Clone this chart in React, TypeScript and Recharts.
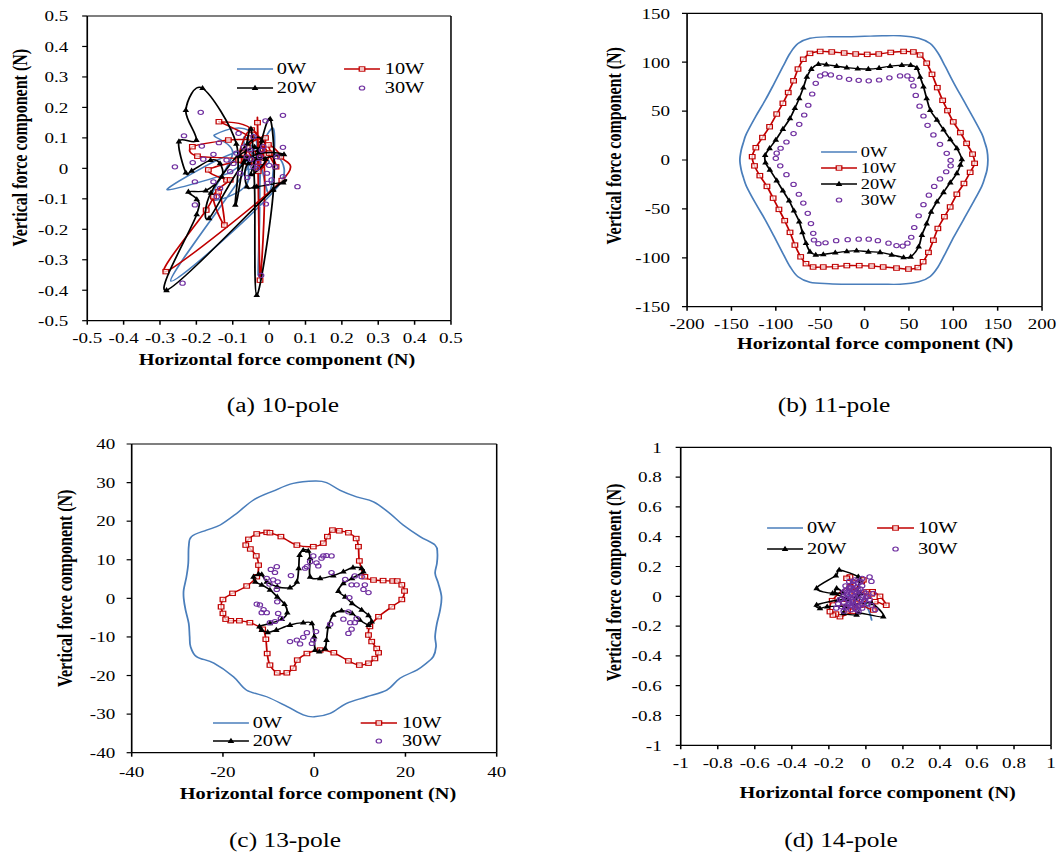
import React from 'react';
import { ScatterChart, Scatter, XAxis, YAxis, Legend, Label, ReferenceLine } from 'recharts';

const S = 1.27;
const BASE_W = 1061 / S;
const FONT = '"Liberation Serif", "Times New Roman", serif';
const C0 = '#4A7EBB';
const C10 = '#C00000';
const C20 = '#000000';
const C30 = '#7030A0';

const seriesNames = ['0W', '10W', '20W', '30W'];
const captions = ['(a) 10-pole', '(b) 11-pole', '(c) 13-pole', '(d) 14-pole'];
const xTitleText = 'Horizontal force component (N)';
const yTitleText = 'Vertical force component (N)';

const ticksA = [-0.5, -0.4, -0.3, -0.2, -0.1, 0, 0.1, 0.2, 0.3, 0.4, 0.5];
const ticksBX = [-200, -150, -100, -50, 0, 50, 100, 150, 200];
const ticksBY = [-150, -100, -50, 0, 50, 100, 150];
const ticksCX = [-40, -20, 0, 20, 40];
const ticksCY = [-40, -30, -20, -10, 0, 10, 20, 30, 40];
const ticksD = [-1, -0.8, -0.6, -0.4, -0.2, 0, 0.2, 0.4, 0.6, 0.8, 1];

// ---------- (a) 10-pole ----------
const aW0 = [[-0.04,0.03],[0.012,0.13],[0.0,-0.08],[-0.06,0.06],[-0.28,-0.068],[-0.12,-0.02],[-0.05,0.02],[-0.27,-0.37],[0.03,-0.05],[-0.02,0.04],[-0.03,-0.35],[-0.035,0.09],[-0.15,0.11],[-0.1,0.05],[-0.16,-0.1],[-0.06,-0.05],[-0.07,0.1],[-0.04,0.06],[0.0,0.02],[-0.06,0.0],[-0.03,0.08],[-0.02,0.0]];
const aW10 = [[-0.03,0.05],[-0.032,0.15],[-0.025,-0.367],[-0.02,0.08],[-0.138,0.153],[-0.05,0.1],[-0.112,0.093],[-0.211,0.071],[-0.197,0.04],[-0.08,0.03],[-0.167,-0.005],[-0.117,-0.038],[-0.107,-0.038],[-0.153,-0.093],[-0.123,-0.186],[-0.139,-0.077],[-0.173,-0.137],[-0.284,-0.339],[0.035,-0.04],[0.032,0.038],[-0.002,0.077],[0.019,0.005],[-0.048,0.126],[-0.084,0.027],[-0.04,0.02],[-0.06,0.07],[-0.01,0.1],[-0.03,-0.01],[0.0,0.05],[-0.07,0.05],[-0.02,0.02]];
const aW20 = [[-0.03,0.05],[0.003,0.162],[0.012,-0.07],[-0.034,-0.416],[-0.04,-0.06],[-0.05,0.13],[-0.07,0.02],[-0.093,-0.12],[-0.09,0.08],[-0.183,0.263],[-0.229,0.191],[-0.2,0.093],[-0.248,0.088],[-0.229,-0.014],[-0.213,-0.008],[-0.161,0.027],[-0.135,0.016],[-0.13,-0.027],[-0.174,-0.073],[-0.222,-0.077],[-0.199,-0.102],[-0.199,-0.151],[-0.282,-0.4],[0.01,-0.071],[0.039,-0.047],[-0.034,-0.06],[-0.061,-0.06],[-0.057,0.016],[0.041,0.046],[-0.06,0.03],[-0.165,-0.164],[-0.16,-0.08],[-0.06,0.08],[-0.02,0.09],[-0.05,-0.02],[-0.01,0.03],[-0.08,0.04],[-0.04,0.07],[-0.03,0.06]];
const aW30 = [[-0.188,0.184],[-0.234,0.107],[-0.259,0.005],[-0.21,0.019],[-0.185,0.073],[-0.204,-0.044],[-0.204,-0.12],[-0.238,-0.377],[-0.022,-0.351],[-0.009,-0.117],[0.038,0.174],[-0.01,0.156],[0.038,0.069],[0.038,-0.027],[0.078,-0.06],[0.017,0.005],[-0.005,-0.049],[-0.138,0.084],[-0.153,0.046],[-0.181,0.03],[-0.153,-0.044],[-0.135,-0.066],[-0.144,-0.093],[-0.084,0.115],[-0.043,0.104],[-0.016,0.071],[-0.061,0.038],[-0.043,0.005],[-0.025,0.038],[-0.098,0.016],[-0.08,-0.016],[-0.006,-0.016],[0.007,-0.038],[-0.052,0.06],[-0.034,0.0],[-0.107,-0.011],[-0.117,0.027],[0.021,0.038],[-0.07,0.07],[-0.02,0.06],[-0.05,0.03],[-0.09,0.05],[-0.03,0.02],[0.0,0.01],[-0.06,-0.03]];

// ---------- (b) 11-pole ----------
const bW0 = [[0,126.5],[20,127],[40,127],[61,124.5],[74,119],[83,109],[91,95.5],[101,78],[111.5,61],[122,44],[132,27],[135.5,18],[138,10],[139,0],[138,-10],[135.5,-18],[132,-27],[122,-44],[111.5,-61],[101,-78],[91,-95.5],[83,-109],[74,-119],[61,-124.5],[40,-127],[20,-127],[0,-127],[-20,-127],[-40,-126.5],[-61.5,-125],[-75,-119.5],[-84,-109],[-92,-95.5],[-102,-78],[-112,-61],[-123,-44],[-133,-27],[-136.5,-18],[-139,-10],[-140.5,0],[-139,10],[-136.5,18],[-133,27],[-123,44],[-112,61],[-102,78],[-92,95.5],[-84,109],[-75,119],[-61.5,124.5],[-40,126],[-20,126]];
const bW10 = [[-61.5,109],[-50,111],[-37,110.5],[-23,109.4],[-10,108.4],[3,108],[16,108.4],[29.5,110],[44,111],[55,110.5],[62.6,107.4],[70,99],[76,87.6],[82,74],[88,61],[93.5,50.5],[100,39],[108,28],[115,17],[121.7,6],[124,-3.4],[119,-12.6],[112,-24],[104,-35],[96.5,-48],[90,-58],[82.6,-70],[77.6,-82],[72,-94.5],[66,-104],[60,-110],[49.5,-111.5],[36,-110.5],[21,-109.4],[8,-108.4],[-6,-108],[-20,-108],[-33,-109],[-46.5,-109.4],[-58,-109.4],[-66,-106],[-72,-99],[-78.5,-87],[-84,-74],[-90,-62],[-96.5,-50.5],[-103,-39],[-110,-27],[-118,-16],[-124,-6],[-126.6,3.4],[-122.5,12.6],[-115,23],[-107,34],[-99,47],[-92,58],[-86,69],[-80,81],[-75,93],[-69,103]];
const bW20 = [[-60,93],[-52,98],[-43,97.5],[-31.4,96],[-20,94.4],[-7.7,93.4],[4.3,93],[16.4,94],[28.8,96],[42,97],[52,97],[59,94],[62.6,85],[66.4,75],[70,63],[74,51],[81.6,41],[89,31],[96.6,21],[104,12],[109.6,0.7],[108,-5],[104,-13.6],[96.6,-23],[89,-33],[81.6,-42.6],[75,-53],[70,-65],[64.6,-76.7],[61,-88.6],[52,-99],[44,-99.6],[30.6,-97],[17.5,-94.4],[4.3,-93.8],[-9,-92.7],[-20,-93.4],[-33,-94.8],[-46.5,-96.5],[-55,-97],[-61.5,-93.8],[-66,-85],[-70,-74],[-73.6,-63],[-79.6,-51.8],[-85,-41.6],[-92,-31.4],[-99,-21],[-106.7,-10],[-111.6,-2.7],[-112,5],[-107,12],[-100,20.5],[-92,31.7],[-84,42.6],[-78.5,53],[-73.6,63],[-69,74],[-65,85]];
const bW30 = [[-50,86],[-44.6,88],[-38,87],[-28.4,84.6],[-17.5,82.5],[-6.6,81.5],[4.7,81],[16.4,81.8],[28,84],[40,86],[48.3,86],[53,82.5],[55,75.7],[57.7,66],[62,55],[66.4,45],[71,35.5],[77.6,25.6],[85,16],[92.6,6.8],[97,-0.3],[97,-6],[92,-12],[85,-19.4],[78.5,-27],[72.5,-36],[66.4,-45.7],[61,-57],[56,-69],[52.6,-79],[48.3,-85],[43,-88],[36,-87.5],[27,-85],[15,-82.5],[4.7,-81],[-6.6,-81],[-19,-81.5],[-32,-82.5],[-44,-84.6],[-52,-85.6],[-57,-81.8],[-57.8,-75],[-60.4,-65],[-64,-54.5],[-69,-44],[-74,-35],[-80,-25],[-88,-15],[-95,-6],[-100,1.7],[-99,7],[-94.6,12],[-88,18.4],[-80,27],[-73.6,36.5],[-68,46],[-63.4,56],[-59,67.5],[-55,78.4]];

// ---------- (c) 13-pole ----------
const cW0 = [[0.2,30.4],[2.7,30],[5.7,28],[9.3,26.3],[13,25],[16.6,22],[19.5,19],[23.2,16],[26.5,13.8],[27,11.7],[26.9,9.1],[26.5,6.5],[27.2,3.9],[27.9,0.4],[27.6,-3],[26.9,-6.5],[26.5,-9.9],[26.7,-12.5],[26.1,-15.1],[24.6,-16.8],[22.5,-18.6],[18.8,-20.7],[15.9,-23.8],[11.5,-25.5],[7.1,-27.2],[3.5,-29.8],[0,-30.7],[-2.4,-30.2],[-6,-28],[-10.4,-25.5],[-14.8,-23.8],[-17.7,-20.3],[-22,-16.8],[-25.8,-15.1],[-27.1,-12.5],[-27.3,-9.9],[-27.5,-6.5],[-28.2,-3],[-28.6,0],[-28.6,2.2],[-28,5.6],[-27.6,9.1],[-27.5,13.4],[-26.9,16],[-23.6,17.7],[-20.6,19],[-17,22],[-13.3,25.5],[-9,27.8],[-4.6,29.8]];
const cW10 = [[-12.6,16.7],[-10.4,17.1],[-9.7,17],[-7.3,16],[-3.8,13.8],[-0.2,13.4],[2,14.3],[2.9,16],[4,17.7],[5.5,17.5],[7.5,17],[9.2,15.5],[9.7,13.4],[9.9,9.7],[11.1,5.6],[13,4.75],[15.1,4.6],[17.2,4.5],[18.2,4.5],[19.2,3.5],[19.8,1.9],[19.2,-0.3],[17,-2.2],[14.1,-4.75],[12.2,-7.3],[11.9,-9.5],[12.6,-11.2],[13.7,-13],[14.1,-14.1],[13.3,-15.6],[11.9,-16.8],[9.9,-17.3],[7.5,-16.2],[4.3,-14.1],[1.3,-13.4],[-1.6,-14.3],[-3.7,-16],[-4.6,-18.1],[-6,-19.3],[-8.1,-19.3],[-9.7,-17.3],[-10.3,-14.3],[-10.6,-10.6],[-11.3,-8],[-14.1,-6.3],[-16.4,-5.8],[-18.3,-5.8],[-19.4,-5.4],[-20,-3.9],[-20.4,-2.2],[-20,-0.3],[-17.9,1.3],[-14.8,3.2],[-12.6,5.6],[-12.2,8.6],[-12.7,11],[-14,12.8],[-15,13.8],[-14.4,15.3]];
const cW20 = [[-13.3,5.6],[-12.2,6.3],[-11.5,6.2],[-10.4,4.3],[-8.1,3],[-5.3,2.8],[-3.8,4.3],[-3.4,7.8],[-3.2,11.2],[-2.4,12.5],[-1.3,12.3],[-0.9,10.4],[-0.9,5.6],[1.3,5.2],[4.2,5.9],[6.4,6.9],[8.5,8],[10.4,7.8],[10.8,6.9],[8.3,5.2],[6.4,3.9],[5.3,1.9],[6.8,0.4],[8.3,-1.3],[10.4,-3],[11.9,-4.4],[12.6,-6],[11.9,-6.9],[10,-5.6],[8.3,-3.9],[6,-3.2],[4.2,-4.3],[3.1,-7.3],[2.7,-10.8],[2.4,-13],[1.1,-13.8],[0.2,-13.4],[0,-9.9],[-0.5,-6.5],[-2.4,-6.3],[-5.3,-6.9],[-8.3,-8.2],[-10.2,-8.8],[-11.5,-8.2],[-12,-7.3],[-9.7,-6.5],[-7.1,-5.4],[-5.9,-3.7],[-6.5,-1.5],[-8.1,0.4],[-9.7,2.2],[-11.5,3.5],[-12.9,4.3]];
const cW30 = [[-0.2,11],[2,11],[2.7,11.1],[3.8,11],[-0.9,9.5],[0.5,9.2],[0.9,8.4],[-2,7.8],[-1.6,8.2],[1.6,10.4],[-9.5,7.5],[-8.2,8.2],[-8.6,6.7],[-10.4,5.2],[-9,4.8],[-8,4.3],[-9.8,3.7],[-8.2,2.3],[-5.1,5.9],[3.8,6.7],[6.8,4.9],[8.9,5.8],[10.4,5.6],[8.2,3.5],[9.3,3.5],[11.1,3.5],[10.8,2.3],[11.9,1.5],[7.7,0.2],[6.4,-5.4],[7.9,-6.3],[8.9,-6.3],[9.3,-5.2],[7.5,-3.5],[8.2,-8],[7.5,-9.1],[3.5,-6.7],[-5.3,-11.2],[-3.8,-10.8],[-2.4,-10.1],[-1.6,-8.9],[0.4,-8.6],[-0.5,-11.7],[-0.2,-10.8],[-3.1,-11.8],[-12.6,-1.5],[-11.9,-1.7],[-11.5,-3.7],[-10.4,-3.7],[-11.1,-2.9],[-8.1,-0.9],[-7.9,-3.9],[-8.6,-6],[-9.7,-6.3],[-7.3,-5.2]];

// ---------- (d) 14-pole ----------
const dW0 = [[-0.05,0.0],[0.0,-0.05],[0.031,-0.159],[0.0,-0.07],[-0.1,-0.05],[-0.07,0.05],[-0.02,0.02]];
const dW10 = [[-0.05,-0.02],[-0.086,0.13],[-0.104,0.121],[-0.023,0.1],[-0.014,0.11],[-0.06,0.03],[0.004,0.03],[0.036,0.031],[0.076,0.0],[0.11,-0.06],[0.05,-0.036],[0.04,-0.092],[-0.05,-0.047],[-0.07,-0.1],[-0.14,-0.137],[-0.162,-0.119],[-0.178,-0.126],[-0.194,-0.103],[-0.182,-0.029],[-0.086,0.065],[0.01,0.0],[0.031,0.016],[-0.03,-0.06],[-0.1,-0.09],[-0.12,-0.05]];
const dW20 = [[-0.05,0.0],[-0.032,0.11],[-0.041,0.132],[-0.144,0.177],[-0.162,0.139],[-0.266,0.054],[-0.18,0.02],[-0.158,0.054],[-0.122,0.02],[-0.167,0.02],[-0.1,-0.02],[-0.15,-0.025],[-0.266,-0.058],[-0.248,-0.081],[-0.209,-0.069],[-0.113,-0.07],[-0.122,-0.114],[-0.05,-0.125],[-0.041,-0.11],[0.094,-0.137],[0.031,-0.047],[-0.06,-0.05],[-0.03,0.02]];
const dW30 = [[0.02,0.13],[0.04,0.02],[0.03,0.1],[-0.02,0.12],[-0.06,0.11],[-0.09,0.1],[-0.04,0.09],[-0.07,0.08],[-0.11,0.07],[-0.05,0.06],[-0.02,0.07],[-0.09,0.05],[-0.03,0.05],[-0.07,0.04],[-0.12,0.03],[-0.1,0.03],[-0.08,0.02],[-0.05,0.02],[-0.01,0.03],[0.0,0.02],[-0.06,0.0],[-0.04,0.01],[-0.09,0.0],[-0.11,-0.01],[-0.13,-0.02],[-0.07,-0.01],[-0.02,-0.01],[0.01,0.0],[-0.1,-0.02],[-0.12,-0.04],[-0.09,-0.05],[-0.07,-0.03],[-0.05,-0.04],[-0.03,-0.02],[-0.01,-0.03],[0.01,-0.05],[0.03,-0.06],[-0.13,-0.07],[-0.11,-0.08],[-0.08,-0.09],[-0.06,-0.08],[-0.04,-0.07],[-0.02,-0.08],[-0.15,-0.05],[-0.09,0.06],[-0.07,0.1],[-0.03,0.1],[-0.05,0.03],[-0.1,0.01],[-0.02,-0.05],[-0.06,-0.06],[0.0,-0.01],[-0.08,-0.01],[-0.11,0.04],[-0.04,-0.1],[0.02,-0.02],[-0.14,-0.02],[-0.12,-0.1],[-0.08,0.06],[-0.06,0.05],[-0.04,0.04],[-0.08,-0.06],[-0.1,-0.07],[-0.05,-0.09],[-0.03,-0.06],[-0.07,-0.05],[-0.09,-0.03],[0.05,-0.09],[-0.16,-0.08],[-0.12,0.0]];

const toPts = (arr: number[][]) => arr.map(([x, y]) => ({ x, y }));

// smooth (Catmull-Rom style) curve factory, open or closed
function makeSmooth(closed: boolean) {
  return (context: any) => {
    let pts: number[][] = [];
    return {
      areaStart() {},
      areaEnd() {},
      lineStart() { pts = []; },
      point(x: number, y: number) { pts.push([+x, +y]); },
      lineEnd() {
        const n = pts.length;
        if (!n) return;
        context.moveTo(pts[0][0], pts[0][1]);
        if (n === 1) return;
        const get = (i: number) => (closed ? pts[((i % n) + n) % n] : pts[Math.max(0, Math.min(n - 1, i))]);
        const segs = closed ? n : n - 1;
        const t = 1 / 6;
        for (let i = 0; i < segs; i++) {
          const p0 = get(i - 1), p1 = get(i), p2 = get(i + 1), p3 = get(i + 2);
          context.bezierCurveTo(
            p1[0] + (p2[0] - p0[0]) * t, p1[1] + (p2[1] - p0[1]) * t,
            p2[0] - (p3[0] - p1[0]) * t, p2[1] - (p3[1] - p1[1]) * t,
            p2[0], p2[1]
          );
        }
        if (closed) context.closePath();
      },
    };
  };
}
const smoothOpen = makeSmooth(false);
const smoothClosed = makeSmooth(true);

const markerFor = (name: string, cx: number, cy: number) => {
  if (name === '10W') return <rect x={cx - 2.2} y={cy - 2.2} width={4.4} height={4.4} fill="#fff" fillOpacity={0.7} stroke={C10} strokeWidth={1} />;
  if (name === '20W') return <polygon points={`${cx},${cy - 3.2} ${cx + 2.6},${cy + 1.9} ${cx - 2.6},${cy + 1.9}`} fill={C20} />;
  if (name === '30W') return <circle cx={cx} cy={cy} r={2.1} fill="none" stroke={C30} strokeWidth={1} />;
  return <g />;
};
const colorFor: Record<string, string> = { '0W': C0, '10W': C10, '20W': C20, '30W': C30 };

const xTitle = (dx: number, dy: number) => (props: any) => {
  const vb = props.viewBox;
  if (!vb) return null;
  return (
    <text x={vb.x + vb.width / 2 + dx} y={vb.y + dy} textAnchor="middle" fontFamily={FONT} fontWeight="bold" fontSize={16} fill="#000">
      {xTitleText}
    </text>
  );
};
const yTitle = (dx: number, dy: number) => (props: any) => {
  const vb = props.viewBox;
  if (!vb) return null;
  const x = vb.x + dx;
  const y = vb.y + vb.height / 2 + dy;
  return (
    <text x={x} y={y} transform={`rotate(-90 ${x} ${y})`} textAnchor="middle" fontFamily={FONT} fontWeight="bold" fontSize={16} fill="#000">
      {yTitleText}
    </text>
  );
};

type LegendItem = { name: string; x1: number; x2: number; tx: number; y: number };
const legendContent = (items: LegendItem[], w: number, h: number, fs: number) => () => (
  <svg width={w} height={h} style={{ display: 'block', overflow: 'visible' }}>
    {items.map((it) => (
      <g key={it.name}>
        {it.name !== '30W' && <line x1={it.x1} x2={it.x2} y1={it.y} y2={it.y} stroke={colorFor[it.name]} strokeWidth={1.4} />}
        {markerFor(it.name, (it.x1 + it.x2) / 2, it.y)}
        <text x={it.tx} y={it.y + fs * 0.34} fontFamily={FONT} fontSize={fs} fill="#000">{it.name}</text>
      </g>
    ))}
  </svg>
);

const grid2 = (c1: number[], c2: number[], r1: number, r2: number): LegendItem[] => [
  { name: seriesNames[0], x1: c1[0], x2: c1[1], tx: c1[2], y: r1 },
  { name: seriesNames[1], x1: c2[0], x2: c2[1], tx: c2[2], y: r1 },
  { name: seriesNames[2], x1: c1[0], x2: c1[1], tx: c1[2], y: r2 },
  { name: seriesNames[3], x1: c2[0], x2: c2[1], tx: c2[2], y: r2 },
];

const panels = [
  {
    left: 0, top: 0, w: 390, h: 385,
    margin: { top: 16, right: 34.9, bottom: 14.3, left: 8.7 },
    xd: [-0.5, 0.5], yd: [-0.5, 0.5], xt: ticksA, yt: ticksA,
    tmx: 8, tmy: 11, xtl: [6.2, 44.3], ytl: [12.8, -20.7],
    closed: false, data: [aW0, aW10, aW20, aW30],
    legend: grid2([186.6, 215, 218], [270.9, 299.2, 303], 69, 88), lfs: 16,
    cap: [222.8, 405],
  },
  {
    left: 420, top: 0, w: 416, h: 385,
    margin: { top: 13.3, right: 15.5, bottom: 28.3, left: 61 },
    xd: [-200, 200], yd: [-150, 150], xt: ticksBX, yt: ticksBY,
    tmx: 8, tmy: 9.4, xtl: [8.3, 42.3], ytl: [8, -14.2],
    closed: true, data: [bW0, bW10, bW20, bW30],
    legend: seriesNames.map((n, i) => ({ name: n, x1: 226.5, x2: 254.8, tx: 257.7, y: 152 + i * 16 })), lfs: 14.5,
    cap: [656.7, 405],
  },
  {
    left: 0, top: 420, w: 410, h: 400,
    margin: { top: 24, right: 18.9, bottom: 17.3, left: 43.7 },
    xd: [-40, 40], yd: [-40, 40], xt: ticksCX, yt: ticksCY,
    tmx: 10, tmy: 9, xtl: [3, 46.6], ytl: [13.2, -10],
    closed: true, data: [cW0, cW10, cW20, cW30],
    legend: grid2([167.7, 196, 199], [284, 312.6, 316.5], 303, 321), lfs: 16,
    cap: [224.4, 840],
  },
  {
    left: 420, top: 420, w: 416, h: 400,
    margin: { top: 27.3, right: 8.4, bottom: 24.7, left: 56 },
    xd: [-1, 1], yd: [-1, 1], xt: ticksD, yt: ticksD,
    tmx: 8.5, tmy: 11, xtl: [9.3, 53], ytl: [13, -13.8],
    closed: false, data: [dW0, dW10, dW20, dW30],
    legend: grid2([184, 212.3, 215.4], [270.6, 299.7, 302.8], 108, 129), lfs: 16,
    cap: [662.2, 840],
  },
];

const tickStyle = { fontSize: 15, fill: '#000', fontFamily: FONT };

function Panel({ p }: { p: any }) {
  const curve = p.closed ? smoothClosed : smoothOpen;
  return (
    <div style={{ position: 'absolute', left: p.left, top: p.top, width: p.w, height: p.h }}>
      <ScatterChart width={p.w} height={p.h} margin={p.margin}>
        <XAxis
          type="number" dataKey="x" domain={p.xd} ticks={p.xt} interval={0} allowDataOverflow
          height={50} tickSize={4} tickMargin={p.tmx} tick={tickStyle}
          axisLine={{ stroke: '#000', strokeWidth: 1.3 }} tickLine={{ stroke: '#000', strokeWidth: 1.2 }}
        >
          <Label content={xTitle(p.xtl[0], p.xtl[1])} />
        </XAxis>
        <YAxis
          type="number" dataKey="y" domain={p.yd} ticks={p.yt} interval={0} allowDataOverflow
          width={60} tickSize={4} tickMargin={p.tmy} tick={tickStyle}
          axisLine={{ stroke: '#000', strokeWidth: 1.3 }} tickLine={{ stroke: '#000', strokeWidth: 1.2 }}
        >
          <Label content={yTitle(p.ytl[0], p.ytl[1])} />
        </YAxis>
        <ReferenceLine y={p.yd[1]} stroke="#000" strokeWidth={1.2} />
        <ReferenceLine x={p.xd[1]} stroke="#000" strokeWidth={1.2} />
        {p.data.map((arr: number[][], i: number) => {
          const name = seriesNames[i];
          const hasLine = name !== '30W';
          return (
            <Scatter
              key={name}
              name={name}
              data={toPts(arr)}
              fill={colorFor[name]}
              line={hasLine ? { stroke: colorFor[name], strokeWidth: 1.4 } : false}
              lineType="joint"
              lineJointType={curve}
              shape={(sp: any) => markerFor(name, sp.cx, sp.cy)}
              isAnimationActive={false}
            />
          );
        })}
        <Legend
          layout="horizontal" verticalAlign="middle" align="center"
          wrapperStyle={{ left: 0, top: 0, width: p.w, height: p.h, pointerEvents: 'none' }}
          content={legendContent(p.legend, p.w, p.h, p.lfs)}
        />
      </ScatterChart>
    </div>
  );
}

export default function App() {
  return (
    <div style={{ position: 'absolute', left: 0, top: 0, width: 1061, height: 857, overflow: 'hidden', background: '#fff' }}>
      <div style={{ position: 'absolute', left: 0, top: 0, width: BASE_W, height: 857, transform: `scaleX(${S})`, transformOrigin: '0 0' }}>
        {panels.map((p, i) => (
          <React.Fragment key={i}>
            <Panel p={p} />
            <div
              style={{
                position: 'absolute', left: p.cap[0] - 100, top: p.cap[1] - 12, width: 200, height: 24,
                lineHeight: '24px', textAlign: 'center', fontFamily: FONT, fontSize: 20, color: '#000',
              }}
            >
              {captions[i]}
            </div>
          </React.Fragment>
        ))}
      </div>
    </div>
  );
}
